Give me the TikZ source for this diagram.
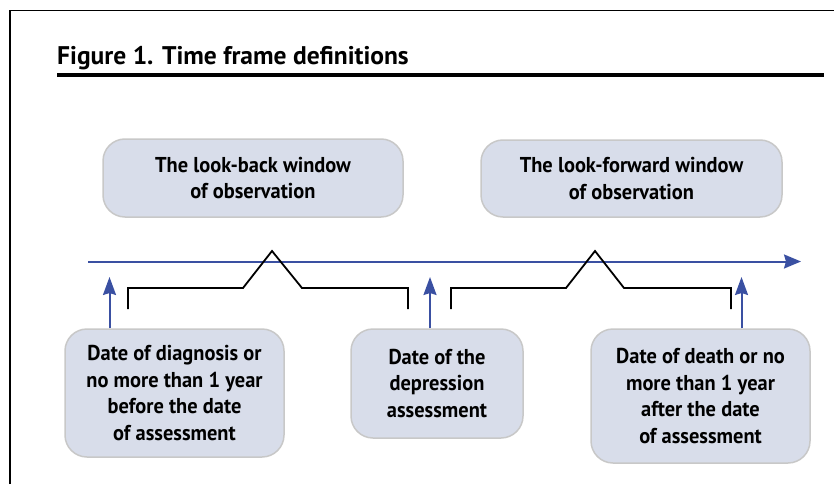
\documentclass[tikz,border=0pt]{standalone}
\usepackage{fontspec}
\setmainfont{PT Sans}
\newfontfamily\titlefont{PT Sans}
\newfontfamily\boxfont[FakeStretch=0.95]{PT Sans}
\usetikzlibrary{arrows.meta}
\definecolor{boxfill}{RGB}{216,221,234}
\definecolor{boxline}{RGB}{200,200,200}
\definecolor{tlblue}{RGB}{58,80,162}
\begin{document}
\begin{tikzpicture}[x=1pt,y=-1pt,
  infobox/.style={draw=boxline, line width=1.5pt, fill=boxfill, rounded corners=22pt,
    align=center, inner sep=0pt,
    font=\boxfont\bfseries\fontsize{21.5}{26.7}\selectfont},
  timeline/.style={draw=tlblue, line width=2pt, -{Stealth[length=17pt,width=14pt,inset=2pt]}},
  uparrow/.style={draw=tlblue, line width=2pt, -{Stealth[length=18pt,width=13pt,inset=2pt]}},
  bracketline/.style={draw=black, line width=1.8pt, line join=miter},
  frameline/.style={draw=black, line width=1.3pt}]
\useasboundingbox (0,0) rectangle (834,484);
% frame
\draw[frameline] (10,484) -- (10,10.5) -- (834,10.5);
% title
\node[anchor=base west, inner sep=0pt, font=\titlefont\bfseries\fontsize{25.5}{30}\selectfont] (title) at (57,65) {Figure 1. Time frame definitions};
\draw[line width=4pt] (57,75) -- (824,75);
% top boxes
\node[infobox, minimum width=300pt, minimum height=78pt] (lookback) at (253,178) {The look-back window\\of observation};
\node[infobox, minimum width=301pt, minimum height=77pt] (lookfwd) at (631.5,178.5) {The look-forward window\\of observation};
% bottom boxes
\node[infobox, minimum width=219pt, minimum height=128pt] (diag) at (174.5,393) {Date of diagnosis or\\no more than 1 year\\before the date\\of assessment};
\node[infobox, minimum width=172pt, minimum height=109pt] (depr) at (437,383.5) {Date of the\\depression\\assessment};
\node[infobox, minimum width=219pt, minimum height=134pt] (death) at (700.5,396) {Date of death or no\\more than 1 year\\after the date\\of assessment};
% timeline
\coordinate (tlstart) at (88,261.5);
\coordinate (tlend) at (801,261.5);
\draw[timeline] (tlstart) -- (tlend);
% brackets
\coordinate (peakL) at (272,251);
\coordinate (peakR) at (595,251);
\draw[bracketline] (128,309) -- (128,288) -- (243,288) -- (peakL) -- (302,288) -- (408,288) -- (408,309);
\draw[bracketline] (451,309) -- (451,288) -- (566,288) -- (peakR) -- (624,288) -- (731,288) -- (731,309);
% up arrows
\coordinate (tipA) at (109.5,277);
\coordinate (tipB) at (430,277);
\coordinate (tipC) at (741.5,277);
\draw[uparrow] (diag.north -| tipA) -- (tipA);
\draw[uparrow] (depr.north -| tipB) -- (tipB);
\draw[uparrow] (death.north -| tipC) -- (tipC);
\end{tikzpicture}
\end{document}
